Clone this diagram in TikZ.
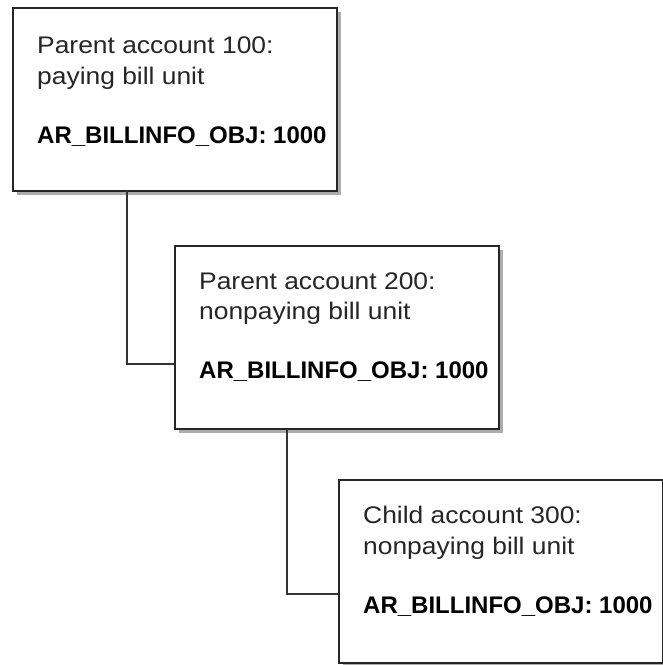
\documentclass[tikz,border=0pt]{standalone}
\usepackage{fontspec}
\setmainfont{Liberation Sans}
\newfontfamily\regfont[FakeStretch=1.1]{Liberation Sans}
\usetikzlibrary{shadows}
\begin{document}
\begin{tikzpicture}[x=1pt,y=-1pt,
  acctbox/.style={draw=black!85, line width=1.6pt, fill=white,
    minimum width=324pt, minimum height=183pt, inner sep=0pt, outer sep=0pt,
    anchor=north west,
    drop shadow={shadow xshift=3.5pt, shadow yshift=-3.5pt, fill=gray!65, opacity=1}},
  txtline/.style={anchor=base west, inner sep=0pt, text=black!85, font=\fontsize{24}{28}\regfont},
  boldline/.style={anchor=base west, inner sep=0pt, text=black, font=\fontsize{24}{28}\selectfont\bfseries},
  link/.style={draw=black!80, line width=1.6pt}]
\useasboundingbox (0,0) rectangle (663,665);
\fill[white] (0,0) rectangle (663,665);

\node[acctbox] (b1) at (13,8) {};
\node[acctbox] (b2) at (175,246) {};
\node[acctbox] (b3) at (339,480) {};

\node[txtline] (t1a) at ([shift={(24,45)}]b1.north west) {Parent account 100:};
\node[txtline] (t1b) at ([shift={(24,76)}]b1.north west) {paying bill unit};
\node[boldline] (t1c) at ([shift={(24,135)}]b1.north west) {AR\_BILLINFO\_OBJ: 1000};

\node[txtline] (t2a) at ([shift={(24,43)}]b2.north west) {Parent account 200:};
\node[txtline] (t2b) at ([shift={(24,73)}]b2.north west) {nonpaying bill unit};
\node[boldline] (t2c) at ([shift={(24,132)}]b2.north west) {AR\_BILLINFO\_OBJ: 1000};

\node[txtline] (t3a) at ([shift={(24,43)}]b3.north west) {Child account 300:};
\node[txtline] (t3b) at ([shift={(24,74)}]b3.north west) {nonpaying bill unit};
\node[boldline] (t3c) at ([shift={(24,133)}]b3.north west) {AR\_BILLINFO\_OBJ: 1000};

\coordinate (k1) at (127,364);
\coordinate (k2) at (287,594);
\draw[link] (b1.south -| k1) -- (k1) -- (b2.west |- k1);
\draw[link] (b2.south -| k2) -- (k2) -- (b3.west |- k2);
\end{tikzpicture}
\end{document}
